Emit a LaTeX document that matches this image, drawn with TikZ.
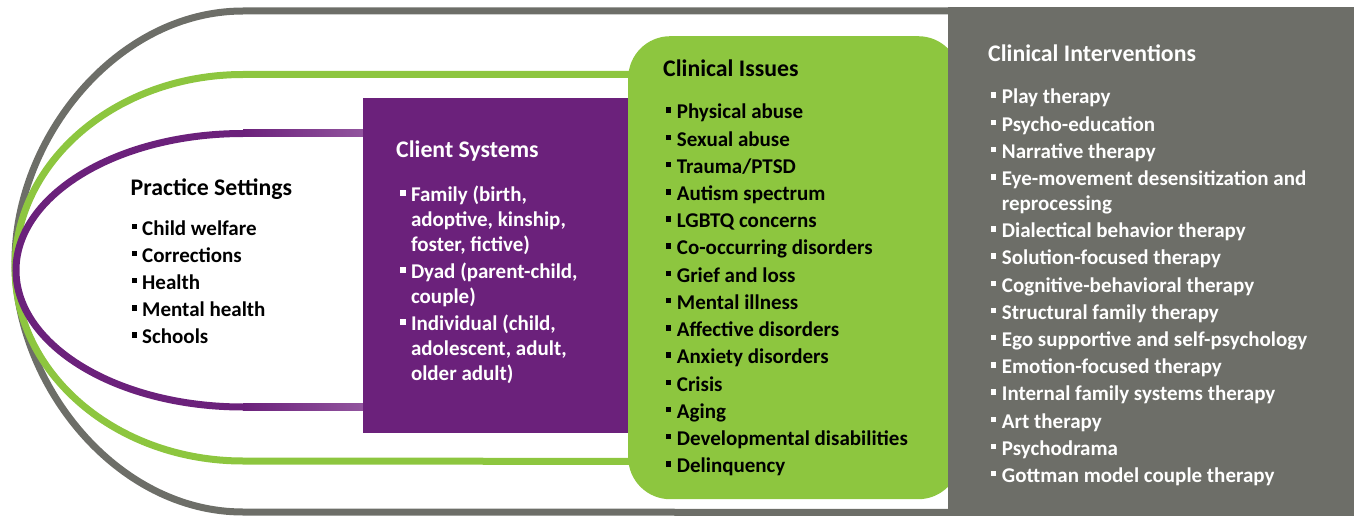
\documentclass[tikz,border=0pt]{standalone}
\usepackage{fontspec}
\setmainfont{Carlito}
\usetikzlibrary{positioning,backgrounds}

\definecolor{cgray}{HTML}{6D6E68}
\definecolor{cgreen}{HTML}{8DC63F}
\definecolor{cpurple}{HTML}{6B217B}
\definecolor{cpurplel}{HTML}{9457A0}

\newlength\bind
\def\bsz{5.5pt}
\newcommand\itm[1]{\par\noindent\hangindent=\bind\hangafter=1\makebox[\bind][l]{\rule[6pt]{\bsz}{\bsz}}#1}
\newcommand\ilist[2]{\vtop{\hsize=360pt\raggedright\setlength\bind{#1}\parskip=2.4pt\relax#2\par}}

\tikzstyle{panel} = [rectangle, inner sep=0, anchor=north west]
\tikzstyle{ttl} = [inner sep=0, anchor=base west, font=\fontsize{23.8}{29}\selectfont\bfseries]
\tikzstyle{lst} = [inner sep=0, font=\fontsize{21}{24.8}\selectfont\bfseries]
\tikzstyle{uline} = [line width=7pt]

\begin{document}
\begin{tikzpicture}[x=1pt,y=-1pt]
  \useasboundingbox (0,0) rectangle (1354,516);

  \node [panel, fill=cgreen, rounded corners=42pt, minimum width=332, minimum height=463] (ci_box) at (628,36) {};
  \node [panel, fill=cpurple, minimum width=265, minimum height=335] (cs_box) at (363,98) {};
  \node [panel, fill=cgray, minimum width=406, minimum height=509] (cv_box) at (948,7) {};

  \begin{pgfonlayer}{background}
    \draw [uline,cgray] ([yshift=-4pt]cv_box.north west) -- (243,11)
      .. controls (117,11) and (15,138.3) .. (15,261.5)
      .. controls (15,384.8) and (117,512) .. (243,512) -- ([yshift=4pt]cv_box.south west);
    \draw [uline,cgreen] ([shift={(6pt,-38.5pt)}]ci_box.north west) -- (243,74.5)
      .. controls (117,74.5) and (15,161) .. (15,267.75)
      .. controls (15,374.5) and (117,461) .. (243,461) -- ([shift={(6pt,38pt)}]ci_box.south west);
    \draw [uline,cpurple] ([shift={(6pt,-35.5pt)}]cs_box.north west) -- (243,133.5)
      .. controls (118,133.5) and (16,194.7) .. (16,270.25)
      .. controls (16,345.8) and (118,407) .. (243,407) -- ([shift={(6pt,26pt)}]cs_box.south west);
    \shade [left color=cpurple, right color=cpurplel] (243,130) rectangle (369,137);
    \shade [left color=cpurple, right color=cpurplel] (243,403.5) rectangle (369,410.5);
  \end{pgfonlayer}

  \node [ttl] (ps_t) at (130.5,195) {Practice Settings};
  \node [lst, below=40pt of ps_t.base west, anchor=base west, xshift=1.2pt] (ps_l) {\ilist{10.3pt}{%
    \itm{Child welfare}
    \itm{Corrections}
    \itm{Health}
    \itm{Mental health}
    \itm{Schools}}};

  \node [ttl, text=white] (cs_t) at (396,157.3) {Client Systems};
  \node [lst, text=white, below=44.4pt of cs_t.base west, anchor=base west, xshift=4pt] (cs_l) {\ilist{10.8pt}{%
    \itm{Family (birth,\newline adoptive, kinship,\newline foster, fictive)}
    \itm{Dyad (parent-child,\newline couple)}
    \itm{Individual (child,\newline adolescent, adult,\newline older adult)}}};

  \node [ttl] (ci_t) at (663,76.7) {Clinical Issues};
  \node [lst, below=42.3pt of ci_t.base west, anchor=base west, xshift=2.7pt] (ci_l) {\ilist{11pt}{%
    \itm{Physical abuse}
    \itm{Sexual abuse}
    \itm{Trauma/PTSD}
    \itm{Autism spectrum}
    \itm{LGBTQ concerns}
    \itm{Co-occurring disorders}
    \itm{Grief and loss}
    \itm{Mental illness}
    \itm{Affective disorders}
    \itm{Anxiety disorders}
    \itm{Crisis}
    \itm{Aging}
    \itm{Developmental disabilities}
    \itm{Delinquency}}};

  \node [ttl, text=white] (cv_t) at (988,61.7) {Clinical Interventions};
  \node [lst, text=white, below=42.3pt of cv_t.base west, anchor=base west, xshift=2.7pt] (cv_l) {\ilist{11pt}{%
    \itm{Play therapy}
    \itm{Psycho-education}
    \itm{Narrative therapy}
    \itm{Eye-movement desensitization and\newline reprocessing}
    \itm{Dialectical behavior therapy}
    \itm{Solution-focused therapy}
    \itm{Cognitive-behavioral therapy}
    \itm{Structural family therapy}
    \itm{Ego supportive and self-psychology}
    \itm{Emotion-focused therapy}
    \itm{Internal family systems therapy}
    \itm{Art therapy}
    \itm{Psychodrama}
    \itm{Gottman model couple therapy}}};
\end{tikzpicture}
\end{document}
